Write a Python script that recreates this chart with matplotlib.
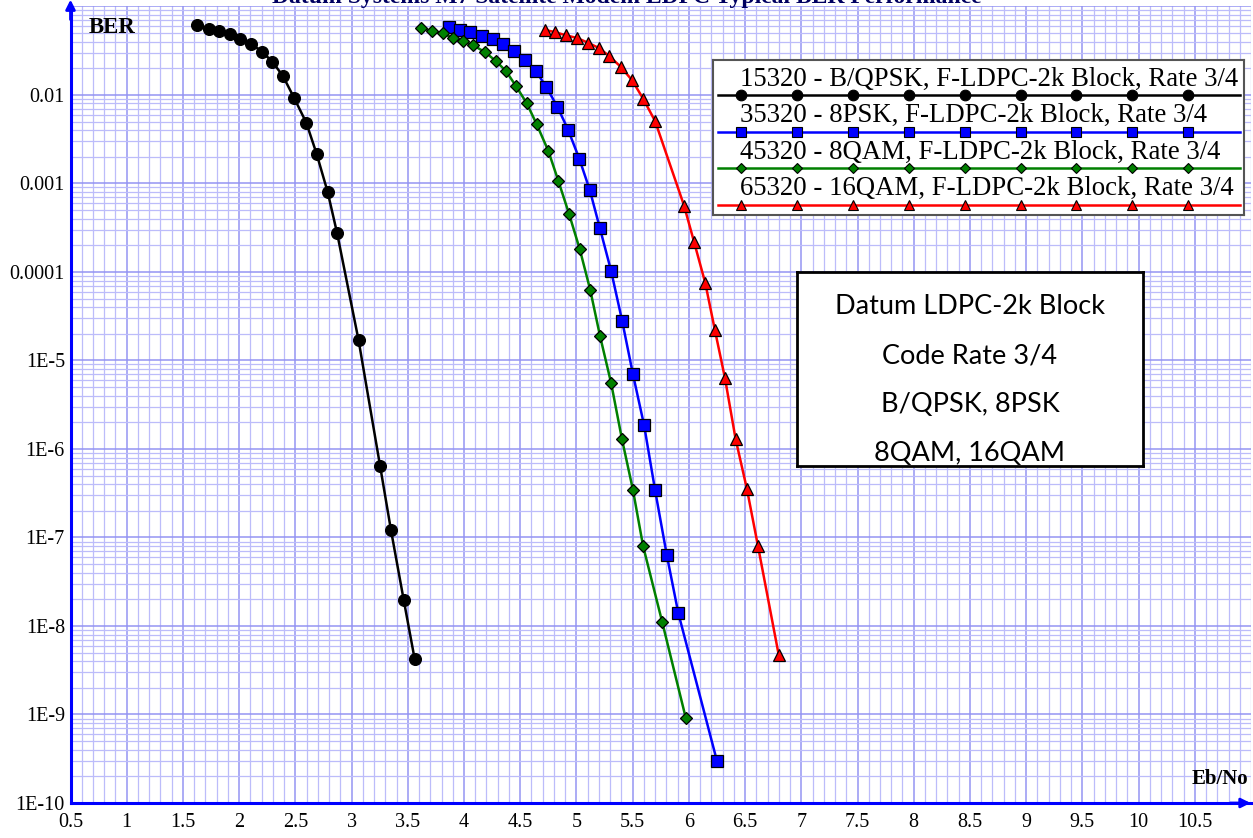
import matplotlib
matplotlib.use("Agg")
import matplotlib.pyplot as plt
from matplotlib.ticker import MultipleLocator, FixedLocator, LogLocator, NullFormatter
import numpy as np

# ---- data ----
bqpsk_ebno = [1.624, 1.733, 1.822, 1.917, 2.008, 2.109, 2.206, 2.295, 2.390, 2.488,
              2.597, 2.689, 2.787, 2.872, 3.062, 3.253, 3.351, 3.464, 3.561]
bqpsk_ber = [0.061, 0.0556, 0.0527, 0.0484, 0.0432, 0.0377, 0.0305, 0.0238, 0.0163, 0.0093,
             0.00486, 0.00216, 0.000803, 0.000272, 1.70e-5, 6.5e-7, 1.2e-7, 1.96e-8, 4.24e-9]

psk8_ebno = [3.866, 3.963, 4.049, 4.158, 4.260, 4.351, 4.446, 4.544, 4.638, 4.730,
             4.830, 4.925, 5.025, 5.120, 5.209, 5.309, 5.407, 5.502, 5.602, 5.700,
             5.803, 5.906, 6.250]
psk8_ber = [0.059, 0.0542, 0.0511, 0.0467, 0.0428, 0.0373, 0.0314, 0.0248, 0.0187, 0.0124,
            0.00738, 0.00406, 0.00191, 0.000832, 0.000311, 0.000102, 2.79e-5, 7.05e-6,
            1.85e-6, 3.40e-7, 6.4e-8, 1.40e-8, 2.98e-10]

qam8_ebno = [3.621, 3.715, 3.812, 3.901, 3.990, 4.082, 4.189, 4.286, 4.375, 4.460,
             4.558, 4.646, 4.750, 4.839, 4.934, 5.030, 5.123, 5.209, 5.309, 5.404,
             5.502, 5.593, 5.762, 5.972]
qam8_ber = [0.0575, 0.0524, 0.0497, 0.0440, 0.0403, 0.0364, 0.0303, 0.0240, 0.0185, 0.0127,
            0.00806, 0.00467, 0.00233, 0.00107, 0.000454, 0.000180, 6.25e-5, 1.91e-5,
            5.52e-6, 1.31e-6, 3.48e-7, 8.0e-8, 1.12e-8, 9.2e-10]

qam16_ebno = [4.721, 4.812, 4.904, 5.005, 5.102, 5.205, 5.294, 5.392, 5.496, 5.596,
              5.700, 5.957, 6.046, 6.146, 6.232, 6.321, 6.416, 6.516, 6.614, 6.800]
qam16_ber = [0.0542, 0.0511, 0.0472, 0.0440, 0.0389, 0.0336, 0.0273, 0.0209, 0.0146, 0.00894,
             0.00505, 0.000563, 0.000219, 7.5e-5, 2.19e-5, 6.34e-6, 1.29e-6, 3.55e-7, 8.1e-8, 4.66e-9]

labels = ["15320 - B/QPSK, F-LDPC-2k Block, Rate 3/4",
          "35320 - 8PSK, F-LDPC-2k Block, Rate 3/4",
          "45320 - 8QAM, F-LDPC-2k Block, Rate 3/4",
          "65320 - 16QAM, F-LDPC-2k Block, Rate 3/4"]

x_ticks = [0.5, 1, 1.5, 2, 2.5, 3, 3.5, 4, 4.5, 5, 5.5, 6, 6.5, 7, 7.5, 8, 8.5, 9, 9.5, 10, 10.5]
x_tick_labels = ["0.5", "1", "1.5", "2", "2.5", "3", "3.5", "4", "4.5", "5", "5.5",
                 "6", "6.5", "7", "7.5", "8", "8.5", "9", "9.5", "10", "10.5"]
y_ticks = [1e-2, 1e-3, 1e-4, 1e-5, 1e-6, 1e-7, 1e-8, 1e-9, 1e-10]
y_tick_labels = ["0.01", "0.001", "0.0001", "1E-5", "1E-6", "1E-7", "1E-8", "1E-9", "1E-10"]

box_lines = ["Datum LDPC-2k Block", "Code Rate 3/4", "B/QPSK, 8PSK", "8QAM, 16QAM"]

series = [
    (bqpsk_ebno, bqpsk_ber, "black", "o", 8.5),
    (psk8_ebno, psk8_ber, "#0000ff", "s", 8.5),
    (qam8_ebno, qam8_ber, "#008000", "D", 6.0),
    (qam16_ebno, qam16_ber, "#ff0000", "^", 8.5),
]

W, H = 1253, 838
serif = "Liberation Serif"

fig = plt.figure(figsize=(W / 100, H / 100), dpi=100)

def px_box(x0, y0, x1, y1):
    # pixel box (top-left origin) -> figure fraction rect
    return [x0 / W, 1 - y1 / H, (x1 - x0) / W, (y1 - y0) / H]

ax = fig.add_axes(px_box(70.5, 6.4, 1251, 803))
ax.set_yscale("log")
ax.set_xlim(0.5, 11.0)
ax.set_ylim(1e-10, 1e-1)

# grid
ax.xaxis.set_major_locator(FixedLocator(x_ticks))
ax.xaxis.set_minor_locator(MultipleLocator(0.1))
ax.yaxis.set_major_locator(FixedLocator(y_ticks + [1e-1]))
ax.yaxis.set_minor_locator(LogLocator(base=10, subs=np.arange(2, 10), numticks=20))
ax.yaxis.set_minor_formatter(NullFormatter())
ax.grid(which="major", color="#9494f2", linewidth=1.1)
ax.grid(which="minor", color="#bcbcfa", linewidth=0.9)
ax.set_axisbelow(True)

ax.set_xticks(x_ticks)
ax.set_xticklabels(x_tick_labels, fontfamily=serif, fontsize=14.5)
ax.set_yticks(y_ticks + [1e-1])
ax.set_yticklabels(y_tick_labels + [""], fontfamily=serif, fontsize=14.5)
ax.tick_params(which="both", length=0)
ax.tick_params(axis="x", pad=7)
ax.tick_params(axis="y", pad=4)

for s in ["top", "right"]:
    ax.spines[s].set_visible(False)
for s in ["left", "bottom"]:
    ax.spines[s].set_color("#0000ff")
    ax.spines[s].set_linewidth(2.2)

# axis arrows
ax.annotate("", xy=(0, 1.012), xytext=(0, 0.98), xycoords="axes fraction",
            arrowprops=dict(arrowstyle="-|>", color="#0000ff", lw=2, mutation_scale=14),
            annotation_clip=False)
ax.annotate("", xy=(1.002, 0), xytext=(0.98, 0), xycoords="axes fraction",
            arrowprops=dict(arrowstyle="-|>", color="#0000ff", lw=2, mutation_scale=14),
            annotation_clip=False)

for xs, ys, c, m, ms in series:
    ax.plot(xs, ys, color=c, lw=1.8, marker=m, markersize=ms,
            markerfacecolor=c, markeredgecolor="black", markeredgewidth=0.9, zorder=3)

ax.text(0.0155, 0.987, "BER", transform=ax.transAxes, fontfamily=serif,
        fontweight="bold", fontsize=16.5, va="top", ha="left")
ax.text(0.998, 0.018, "Eb/No", transform=ax.transAxes, fontfamily=serif,
        fontweight="bold", fontsize=15, va="bottom", ha="right")

# title, clipped by the top edge
fig.text(0.5, 1 - 2.5 / H, "Datum Systems M7 Satellite Modem LDPC Typical BER Performance",
         ha="center", va="baseline", fontfamily=serif, fontweight="bold",
         fontsize=17, color="#000060")

# legend drawn by hand
lax = fig.add_axes(px_box(713, 60, 1244, 215))
lax.set_xlim(0, 1)
lax.set_ylim(1, 0)
lax.set_xticks([])
lax.set_yticks([])
for sp in lax.spines.values():
    sp.set_color("#555555")
    sp.set_linewidth(1.5)
mx = np.linspace(0.053, 0.895, 9)
line_y = [0.229, 0.465, 0.700, 0.936]
text_y = [0.170, 0.399, 0.635, 0.870]
for (xs, ys, c, m, ms), lab, ly, ty in zip(series, labels, line_y, text_y):
    lax.plot([0.009, 0.992], [ly, ly], color=c, lw=1.8)
    lax.plot(mx, [ly] * len(mx), ls="none", marker=m, markersize=ms * 0.9,
             markerfacecolor=c, markeredgecolor="black", markeredgewidth=0.8)
    lax.text(0.05, ty, lab, fontfamily=serif, fontsize=19.3, va="baseline", ha="left")

# annotation box
bax = fig.add_axes(px_box(797, 272, 1143, 466))
bax.set_xlim(0, 1)
bax.set_ylim(1, 0)
bax.set_xticks([])
bax.set_yticks([])
for sp in bax.spines.values():
    sp.set_color("black")
    sp.set_linewidth(2)
for i, t in enumerate(box_lines):
    bax.text(0.5, 0.18 + i * 0.252, t, ha="center", va="center",
             fontfamily="Lato", fontsize=19.5)

fig.savefig("out.png", dpi=100)
